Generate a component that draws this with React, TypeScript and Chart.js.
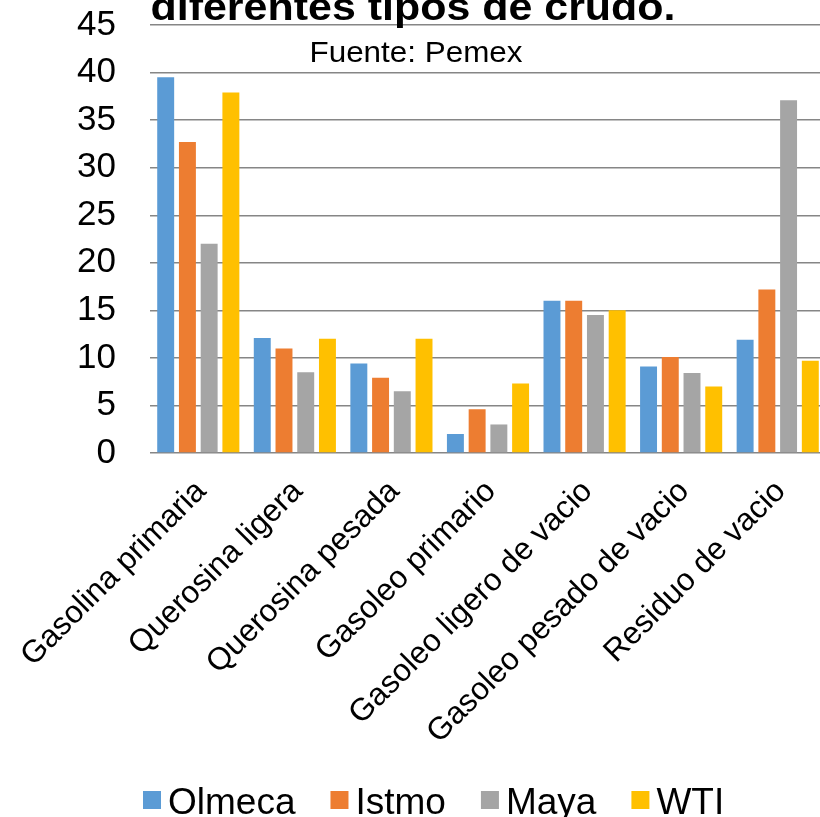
import React, { useEffect, useRef } from "react";
import { Chart, registerables } from "chart.js";

Chart.register(...registerables);

const categories = [
  "Gasolina primaria",
  "Querosina ligera",
  "Querosina pesada",
  "Gasoleo primario",
  "Gasoleo ligero de vacio",
  "Gasoleo pesado de vacio",
  "Residuo de vacio",
];
const olmeca = [39.5, 12.1, 9.4, 2.0, 16.0, 9.1, 11.9];
const istmo = [32.7, 11.0, 7.9, 4.6, 16.0, 10.1, 17.2];
const maya = [22.0, 8.5, 6.5, 3.0, 14.5, 8.4, 37.1];
const wti = [37.9, 12.0, 12.0, 7.3, 15.0, 7.0, 9.7];
const seriesNames = ["Olmeca", "Istmo", "Maya", "WTI"];
const seriesColors = ["#5B9BD5", "#ED7D31", "#A5A5A5", "#FFC000"];
const titleText = "diferentes tipos de crudo.";
const subtitleText = "Fuente: Pemex";
const yMin = 0;
const yMax = 45;
const yStep = 5;

const FONT = "'Liberation Sans', Arial, Helvetica, sans-serif";

const overlayPlugin = {
  id: "overlayText",
  afterDraw(chart: any) {
    const ctx = chart.ctx as CanvasRenderingContext2D;
    ctx.save();
    ctx.fillStyle = "#000";
    ctx.textBaseline = "alphabetic";
    // title (partially cut at top, as in the reference)
    ctx.font = `bold 38px ${FONT}`;
    const tw = ctx.measureText(titleText).width;
    ctx.save();
    ctx.translate(413, 20);
    ctx.scale(525 / tw, 1);
    ctx.textAlign = "center";
    ctx.fillText(titleText, 0, 0);
    ctx.restore();
    // subtitle
    ctx.font = `30px ${FONT}`;
    const sw = ctx.measureText(subtitleText).width;
    ctx.save();
    ctx.translate(416, 62);
    ctx.scale(213 / sw, 1);
    ctx.textAlign = "center";
    ctx.fillText(subtitleText, 0, 0);
    ctx.restore();
    // legend
    ctx.font = `37px ${FONT}`;
    ctx.textAlign = "left";
    let x = 143;
    chart.data.datasets.forEach((ds: any) => {
      ctx.fillStyle = ds.backgroundColor;
      ctx.fillRect(x, 791, 18, 18);
      ctx.fillStyle = "#000";
      ctx.fillText(ds.label, x + 25, 814);
      x += 25 + ctx.measureText(ds.label).width + 35;
    });
    ctx.restore();
  },
};

export default function App() {
  const ref = useRef<HTMLCanvasElement | null>(null);

  useEffect(() => {
    if (!ref.current) return;
    const seriesData = [olmeca, istmo, maya, wti];
    const chart = new Chart(ref.current, {
      type: "bar",
      data: {
        labels: categories,
        datasets: seriesNames.map((name, i) => ({
          label: name,
          data: seriesData[i],
          backgroundColor: seriesColors[i],
          borderWidth: 0,
          barPercentage: 0.78,
          categoryPercentage: 0.9,
        })),
      },
      options: {
        responsive: false,
        animation: false,
        devicePixelRatio: 1,
        layout: { padding: { top: 25, bottom: 0, left: 0, right: 0 } },
        plugins: {
          legend: { display: false },
          title: { display: false },
          tooltip: { enabled: false },
        },
        scales: {
          x: {
            grid: { display: false, drawTicks: false },
            border: { display: false },
            ticks: {
              autoSkip: false,
              minRotation: 45,
              maxRotation: 45,
              padding: 20,
              labelOffset: 3,
              color: "#000",
              font: { family: FONT, size: 31.5 },
            },
            afterFit: (s: any) => {
              s.height = 364;
              s.paddingLeft = 0;
              s.paddingRight = 0;
            },
          },
          y: {
            min: yMin,
            max: yMax,
            ticks: {
              stepSize: yStep,
              padding: 34,
              color: "#000",
              font: { family: FONT, size: 35 },
            },
            grid: { color: "#868686", lineWidth: 1.4, drawTicks: false },
            border: { display: false },
            afterFit: (s: any) => {
              s.width = 150;
              s.paddingTop = 0;
              s.paddingBottom = 0;
            },
          },
        },
      },
      plugins: [overlayPlugin],
    });
    return () => chart.destroy();
  }, []);

  return (
    <div
      style={{
        position: "absolute",
        left: 0,
        top: 0,
        width: 820,
        height: 817,
        overflow: "hidden",
        background: "#fff",
      }}
    >
      <canvas
        ref={ref}
        width={826}
        height={817}
        style={{ display: "block", width: "826px", height: "817px" }}
      />
    </div>
  );
}
